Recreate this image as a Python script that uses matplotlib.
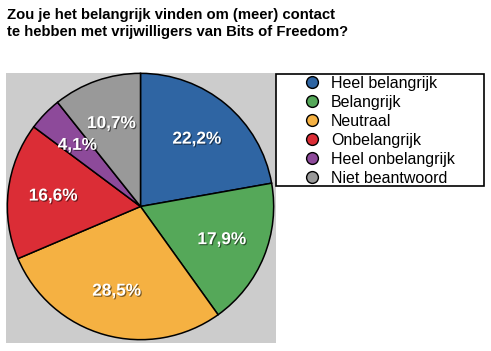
import matplotlib
matplotlib.use("Agg")
import matplotlib.pyplot as plt
import matplotlib.patheffects as pe
from matplotlib.patches import Rectangle
from matplotlib.lines import Line2D

plt.rcParams['font.family'] = ['Liberation Sans', 'DejaVu Sans']

title = "Zou je het belangrijk vinden om (meer) contact\nte hebben met vrijwilligers van Bits of Freedom?"
labels = ["Heel belangrijk", "Belangrijk", "Neutraal", "Onbelangrijk",
          "Heel onbelangrijk", "Niet beantwoord"]
values = [22.2, 17.9, 28.5, 16.6, 4.1, 10.7]
colors = ["#2f65a3", "#55a859", "#f5b142", "#db2d36", "#8d4a9a", "#999999"]

W, H = 491, 351
fig = plt.figure(figsize=(W / 100, H / 100), dpi=100)

# grey panel behind the pie
fig.patches.append(Rectangle((6 / W, 1 - 343 / H), 270 / W, 270 / H,
                             transform=fig.transFigure, facecolor="#cccccc",
                             edgecolor="none", zorder=-2))

ax = fig.add_axes([6 / W, 10 / H, 269 / W, 269 / H])
ax.patch.set_visible(False)
wedges, texts, autotexts = ax.pie(
    values, colors=colors, startangle=90, counterclock=False,
    autopct=lambda p: f"{p:.1f}%".replace(".", ","), pctdistance=0.66,
    wedgeprops=dict(edgecolor="black", linewidth=1.1),
)
for t in autotexts:
    t.set_color("white")
    t.set_fontsize(12.4)
    t.set_fontweight("bold")
    t.set_path_effects([pe.withSimplePatchShadow(offset=(0.8, -0.8),
                                                 shadow_rgbFace="black", alpha=0.5)])
ax.set_xlim(-1.01, 1.01)
ax.set_ylim(-1.01, 1.01)
ax.set_aspect("equal")
ax.axis("off")

fig.text(7 / W, 1 - 8 / H, title, fontsize=10.75, fontweight="bold",
         va="top", ha="left", linespacing=1.25)

# legend box
fig.patches.append(Rectangle((276 / W, 1 - 186 / H), 208 / W, 112 / H,
                             transform=fig.transFigure, facecolor="white",
                             edgecolor="black", linewidth=1.2, zorder=1))
handles = [Line2D([], [], linestyle="none", marker="o", markersize=8.5,
                  markerfacecolor=c, markeredgecolor="black", markeredgewidth=1)
           for c in colors]
fig.legend(handles, labels, loc="upper left",
           bbox_to_anchor=(306 / W, 1 - 76 / H), frameon=False,
           fontsize=11.5, handlelength=0.8, handletextpad=0.78,
           labelspacing=0.25, borderpad=0, borderaxespad=0)

fig.savefig("out.png", dpi=100)
